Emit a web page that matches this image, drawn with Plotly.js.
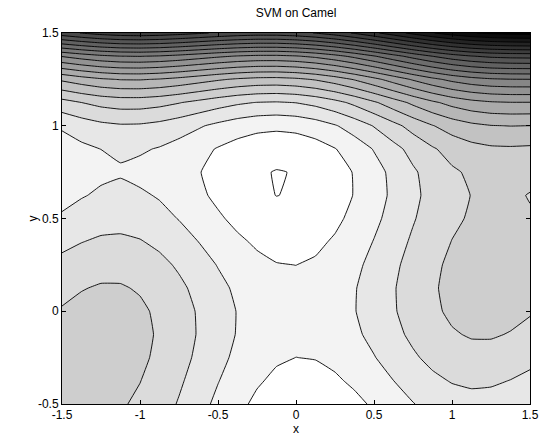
<!DOCTYPE html>
<html>
<head>
<meta charset="utf-8">
<script src="https://cdn.plot.ly/plotly-3.0.1.min.js"></script>
<style>html,body{margin:0;padding:0;background:#fff;}#chart{width:548px;height:438px;}</style>
</head>
<body>
<div id="chart"></div>
<script>
// grid coordinates
var xVals = [-1.5,-1.375,-1.25,-1.125,-1,-0.875,-0.75,-0.625,-0.5,-0.375,-0.25,-0.125,0,0.125,0.25,0.375,0.5,0.625,0.75,0.875,1,1.125,1.25,1.375,1.5];
var yVals = [-0.5,-0.375,-0.25,-0.125,0,0.125,0.25,0.375,0.5,0.625,0.75,0.875,1,1.125,1.25,1.375,1.5];
// SVM output values (one row per y value)
var zRows = [
 [2.166,2.247,2.270,2.187,1.983,1.669,1.270,0.825,0.374,-0.041,-0.383,-0.626,-0.750,-0.751,-0.633,-0.416,-0.126,0.200,0.520,0.794,0.983,1.062,1.020,0.872,0.666],
 [2.246,2.342,2.381,2.313,2.125,1.826,1.443,1.013,0.579,0.180,-0.147,-0.374,-0.483,-0.468,-0.335,-0.102,0.204,0.545,0.881,1.170,1.375,1.469,1.443,1.310,1.121],
 [2.307,2.419,2.474,2.421,2.249,1.966,1.599,1.184,0.765,0.382,0.071,-0.141,-0.234,-0.203,-0.055,0.194,0.515,0.872,1.224,1.528,1.749,1.859,1.849,1.731,1.557],
 [2.292,2.419,2.489,2.453,2.296,2.028,1.677,1.278,0.875,0.507,0.211,0.016,-0.062,-0.016,0.149,0.413,0.750,1.122,1.489,1.810,2.046,2.171,2.177,2.075,1.917],
 [2.166,2.309,2.395,2.374,2.233,1.981,1.645,1.262,0.874,0.522,0.242,0.062,0.000,0.062,0.242,0.522,0.874,1.262,1.645,1.981,2.233,2.374,2.395,2.309,2.166],
 [1.917,2.075,2.177,2.171,2.046,1.810,1.489,1.122,0.750,0.413,0.149,-0.016,-0.062,0.016,0.211,0.507,0.875,1.278,1.677,2.028,2.296,2.453,2.489,2.419,2.292],
 [1.557,1.731,1.849,1.859,1.749,1.528,1.224,0.872,0.515,0.194,-0.055,-0.203,-0.234,-0.141,0.071,0.382,0.765,1.184,1.599,1.966,2.249,2.421,2.474,2.419,2.307],
 [1.121,1.310,1.443,1.469,1.375,1.170,0.881,0.545,0.204,-0.102,-0.335,-0.468,-0.483,-0.374,-0.147,0.180,0.579,1.013,1.443,1.826,2.125,2.313,2.381,2.342,2.246],
 [0.666,0.872,1.020,1.062,0.983,0.794,0.520,0.200,-0.126,-0.416,-0.633,-0.751,-0.750,-0.626,-0.383,-0.041,0.374,0.825,1.270,1.669,1.983,2.187,2.270,2.247,2.166],
 [0.277,0.498,0.662,0.719,0.663,0.482,0.224,-0.081,-0.391,-0.664,-0.866,-1.020,-0.952,-0.812,-0.554,-0.196,0.235,0.701,1.162,1.576,1.906,2.125,2.224,2.216,2.080],
 [0.057,0.294,0.400,0.490,0.327,0.341,0.099,-0.191,-0.485,-0.743,-0.930,-1.040,-0.984,-0.828,-0.555,-0.181,0.265,0.747,1.224,1.653,1.999,2.234,2.349,2.356,2.307],
 [0.136,0.388,0.555,0.640,0.640,0.497,0.271,-0.003,-0.282,-0.524,-0.695,-0.765,-0.718,-0.547,-0.257,0.132,0.594,1.091,1.583,2.029,2.390,2.640,2.771,2.794,2.761],
 [0.666,0.934,1.145,1.249,1.233,1.106,0.895,0.637,0.374,0.147,-0.008,-0.063,0.000,0.187,0.492,0.897,1.374,1.887,2.395,2.856,3.233,3.499,3.645,3.684,3.666],
 [1.824,2.107,2.334,2.453,2.453,2.342,2.146,1.904,1.657,1.445,1.306,1.266,1.345,1.548,1.868,2.289,2.782,3.310,3.834,4.310,4.703,4.985,5.146,5.201,5.199],
 [3.807,4.106,4.349,4.484,4.499,4.403,4.224,3.997,3.765,3.569,3.446,3.422,3.516,3.734,4.071,4.507,5.015,5.559,6.099,6.591,6.999,7.296,7.474,7.544,7.557],
 [6.839,7.153,7.411,7.562,7.593,7.513,7.349,7.138,6.922,6.741,6.633,6.625,6.735,6.969,7.321,7.773,8.297,8.856,9.411,9.919,10.343,10.656,10.849,10.935,10.964],
 [11.166,11.497,11.770,11.937,11.983,11.919,11.770,11.575,11.374,11.210,11.117,11.125,11.250,11.500,11.867,12.335,12.874,13.450,14.020,14.544,14.983,15.312,15.520,15.622,15.666]
];
// contour levels
var levelStart = -1.01;
var levelEnd = 15.37;
var levelStep = 0.78;
// tick labels
var xTicks = [-1.5,-1,-0.5,0,0.5,1,1.5];
var xTickText = ['-1.5','-1','-0.5','0','0.5','1','1.5'];
var yTicks = [-0.5,0,0.5,1,1.5];
var yTickText = ['-0.5','0','0.5','1','1.5'];

var nLevels = Math.floor((levelEnd - levelStart) / levelStep + 1e-6) + 1;
var font = {family: 'Liberation Sans, Arial, sans-serif', size: 12, color: '#000'};

var trace = {
  type: 'contour',
  x: xVals, y: yVals, z: zRows,
  autocontour: false,
  contours: {start: levelStart, end: levelEnd, size: levelStep, coloring: 'fill', showlines: true},
  colorscale: [[0, 'rgb(255,255,255)'], [1 / nLevels, 'rgb(255,255,255)'], [1, 'rgb(0,0,0)']],
  line: {color: '#000', width: 0.9, smoothing: 0.3},
  showscale: false,
  hoverinfo: 'skip'
};

var layout = {
  width: 548, height: 438,
  margin: {l: 62, r: 18, t: 33, b: 34},
  paper_bgcolor: '#fff', plot_bgcolor: '#fff',
  font: font,
  title: {text: 'SVM on Camel', font: font, x: 0.5, xref: 'paper', y: 1 - 13 / 438, yref: 'container', yanchor: 'middle'},
  xaxis: {
    range: [-1.5, 1.5], tickvals: xTicks, ticktext: xTickText,
    ticks: 'inside', ticklen: 4, tickcolor: '#000', tickfont: font,
    showgrid: false, zeroline: false, showline: true, linecolor: '#000', linewidth: 1, mirror: 'ticks',
    title: {text: 'x', font: font, standoff: 2}
  },
  yaxis: {
    range: [-0.5, 1.5], tickvals: yTicks, ticktext: yTickText,
    ticks: 'inside', ticklen: 4, tickcolor: '#000', tickfont: font,
    showgrid: false, zeroline: false, showline: true, linecolor: '#000', linewidth: 1, mirror: 'ticks'
  },
  annotations: [{
    text: 'y', font: font, textangle: -90, showarrow: false,
    xref: 'paper', yref: 'paper', x: (32 - 62) / 468, y: 0.5, xanchor: 'center', yanchor: 'middle'
  }],
  showlegend: false
};

Plotly.newPlot('chart', [trace], layout, {displayModeBar: false, staticPlot: true});
</script>
</body>
</html>
